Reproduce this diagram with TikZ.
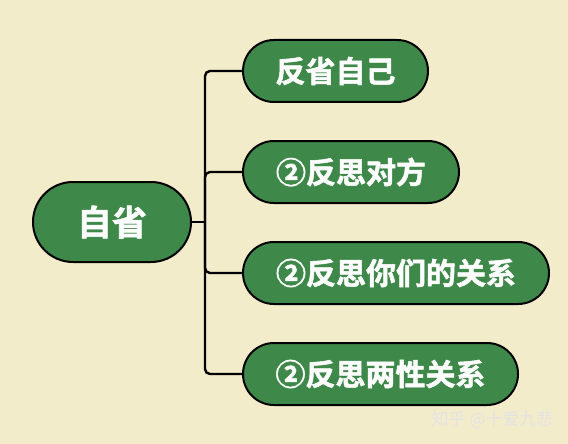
\documentclass[tikz,border=0pt]{standalone}
\usepackage{fontspec}
\newfontfamily\cjk{Noto Sans CJK SC}
\newfontfamily\cjkheavy{Noto Sans CJK SC Bold}[FakeBold=1.6]
\usetikzlibrary{calc}
\definecolor{paper}{RGB}{243,236,202}
\definecolor{leaf}{RGB}{62,137,74}

\begin{document}
\begin{tikzpicture}[x=1pt,y=-1pt,
	topic/.style={draw=black,line width=2pt,fill=leaf,text=white,font=\cjkheavy\fontsize{30}{30}\selectfont,inner sep=0pt},
	link/.style={line width=2.4pt,rounded corners=5pt}]
	\fill[paper] (0,0) rectangle (568,444);
	\useasboundingbox (0,0) rectangle (568,444);

	\node[topic,minimum width=158pt,minimum height=80pt,rounded corners=40pt,font=\cjkheavy\fontsize{35}{35}\selectfont] (self) at (112,222) {自省};
	\coordinate (trunk) at (205,222);

	\node[topic,anchor=west,minimum width=185pt,minimum height=62pt,rounded corners=31pt] (own) at (242,71) {反省自己};
	\node[topic,anchor=west,minimum width=216pt,minimum height=62pt,rounded corners=31pt] (other) at (242,172) {②反思对方};
	\node[topic,anchor=west,minimum width=306pt,minimum height=62pt,rounded corners=31pt] (bond) at (242,273) {②反思你们的关系};
	\node[topic,anchor=west,minimum width=275pt,minimum height=62pt,rounded corners=31pt] (sexes) at (242,374) {②反思两性关系};

	\draw[link] (self.east) -- (trunk);
	\foreach \c in {own,other,bond,sexes}
		\draw[link] (trunk) |- (\c.west);

	\node[text=white!78!gray,font=\cjk\fontsize{17}{17}\selectfont,anchor=east] (mark) at (557,420) {知乎 @十爱九悲};
\end{tikzpicture}
\end{document}
